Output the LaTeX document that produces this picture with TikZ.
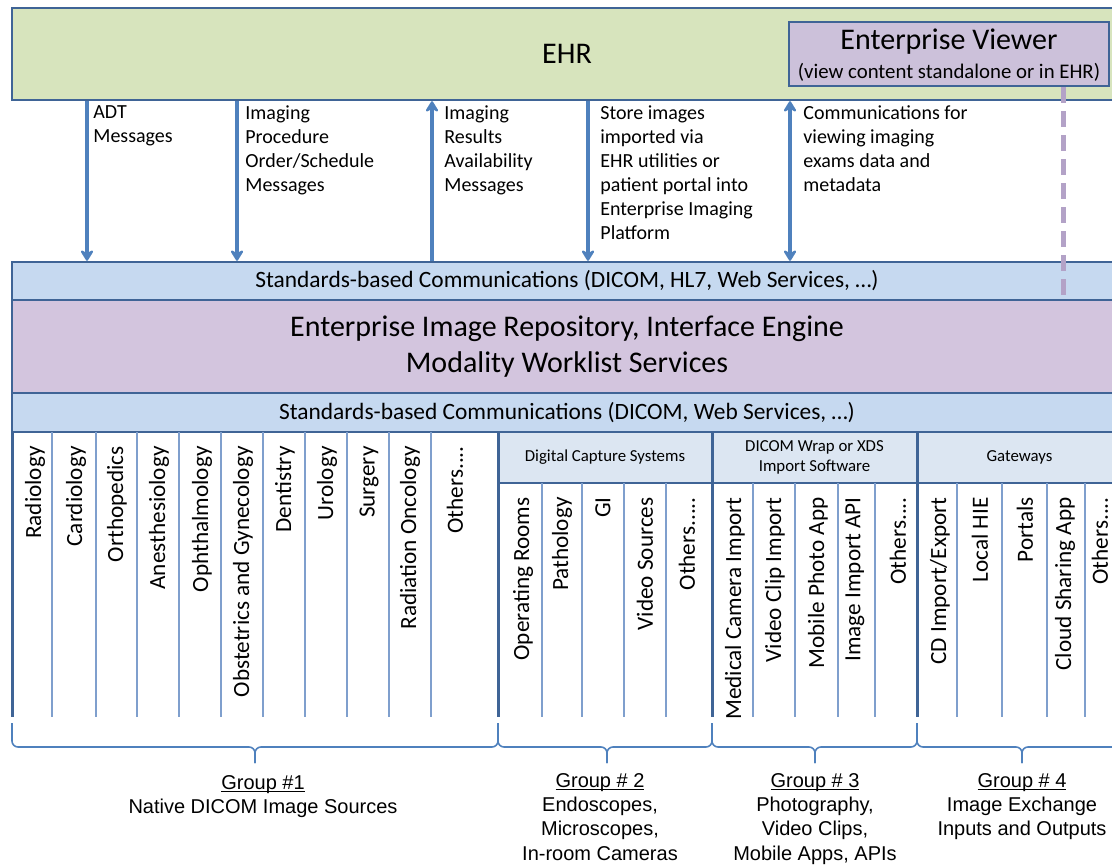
\documentclass[tikz,border=0pt]{standalone}
\usepackage{fontspec}
\setmainfont{Carlito}
\newfontfamily\arialfont{Liberation Sans}
\usepackage{xcolor}
\usetikzlibrary{arrows.meta}
\definecolor{ehrgreen}{HTML}{D7E4BD}
\definecolor{frameblue}{HTML}{3F6496}
\definecolor{stdblue}{HTML}{C6D9F0}
\definecolor{repopurple}{HTML}{D3C5DE}
\definecolor{viewpurple}{HTML}{CCC1DA}
\definecolor{hdrblue}{HTML}{DCE6F2}
\definecolor{arrowblue}{HTML}{4F81BD}
\definecolor{linecol}{HTML}{7F9FCD}
\definecolor{dashpurple}{HTML}{B3A2C7}
\newcommand{\grpul}[1]{\setbox0\hbox{#1}\rlap{\rule[-1.6pt]{\wd0}{0.6pt}}\box0}
\newcommand{\grpbrace}[3]{%
  \draw[brc] (#1,723) -- (#1,747) -- (#2,747) -- (#2,763);
  \draw[brc] (#3,723) -- (#3,747) -- (#2,747) -- (#2,763);}
\begin{document}
\begin{tikzpicture}[x=0.5pt,y=-0.5pt,>={Stealth[length=6.5pt,width=8pt,inset=2.2pt,round]},
  box/.style={draw=frameblue,line width=1.2pt,inner sep=0pt},
  flow/.style={arrowblue,line width=1.8pt},
  note/.style={anchor=north west,align=left,inner sep=0pt,font=\fontsize{10}{12}\selectfont},
  collabel/.style={rotate=90,anchor=east,inner sep=0pt,font=\fontsize{11.6}{13}\selectfont},
  colline/.style={draw=linecol,line width=1pt},
  grpline/.style={draw=frameblue,line width=1.5pt},
  hdr/.style={box,line width=1pt,fill=hdrblue,align=center,font=\fontsize{8.4}{10}\selectfont},
  brc/.style={draw=arrowblue,line width=0.8pt,rounded corners=3pt},
  grp/.style={anchor=north,align=center,font=\arialfont\fontsize{10}{12.2}\selectfont},
  vdash/.style={draw=dashpurple,line width=2.5pt,dash pattern=on 8pt off 4pt}]
\useasboundingbox (0,0) rectangle (1112,865);
\clip (0,0) rectangle (1112,865);

\node[box,fill=ehrgreen,minimum width=555pt,minimum height=46pt,font=\fontsize{15}{18}\selectfont] (ehr) at (567,54) {EHR};
\node[box,fill=viewpurple,minimum width=160pt,minimum height=32pt] (ev) at (949,54) {};
\node[font=\fontsize{15}{18}\selectfont] (evt) at (949,42) {Enterprise Viewer};
\node[font=\fontsize{10.4}{12}\selectfont] (evs) at (949,72) {(view content standalone or in EHR)};

\node[box,fill=stdblue,minimum width=555pt,minimum height=19pt,font=\fontsize{11.7}{14}\selectfont] (std1) at (567,281) {Standards-based Communications (DICOM, HL7, Web Services, …)};
\node[box,fill=repopurple,minimum width=555pt,minimum height=46.5pt,align=center,font=\fontsize{15}{18}\selectfont] (repo) at (567,346.5) {Enterprise Image Repository, Interface Engine\\Modality Worklist Services};
\node[box,fill=stdblue,minimum width=555pt,minimum height=19.5pt,font=\fontsize{11.7}{14}\selectfont] (std2) at (567,412.5) {Standards-based Communications (DICOM, Web Services, …)};

\coordinate (a1) at (87,0);
\coordinate (a2) at (237,0);
\coordinate (a3) at (432,0);
\coordinate (a4) at (588,0);
\coordinate (a5) at (790,0);
\draw[flow,->] (a1 |- ehr.south) -- (a1 |- std1.north);
\draw[flow,->] (a2 |- ehr.south) -- (a2 |- std1.north);
\draw[flow,<-] (a3 |- ehr.south) -- (a3 |- std1.north);
\draw[flow,->] (a4 |- ehr.south) -- (a4 |- std1.north);
\draw[flow,<->] (a5 |- ehr.south) -- (a5 |- std1.north);
\coordinate (dv) at (1063,296);
\draw[vdash] (dv |- ev.south) -- (dv);

\node[note] (l1) at (93,105) {ADT\\Messages};
\node[note] (l2) at (245,105) {Imaging\\Procedure\\Order/Schedule\\Messages};
\node[note] (l3) at (444,105) {Imaging\\Results\\Availability\\Messages};
\node[note] (l4) at (600,105) {Store images\\imported via\\EHR utilities or\\patient portal into\\Enterprise Imaging\\Platform};
\node[note] (l5) at (803,105) {Communications for\\viewing imaging\\exams data and\\metadata};

\node[hdr,minimum width=107pt,minimum height=25.5pt] (h2) at (605,457.5) {Digital Capture Systems};
\node[hdr,minimum width=102.5pt,minimum height=25.5pt] (h3) at (814.5,457.5) {DICOM Wrap or XDS\\Import Software};
\node[hdr,minimum width=102.5pt,minimum height=25.5pt] (h4) at (1019.5,457.5) {Gateways};

\foreach \x in {52,96,137,179,221,263,305,347,389,431}
  \draw[colline] (\x,432) -- (\x,717);
\foreach \x in {542,582,624,666,753,795,838,875,957,1002,1047,1085}
  \draw[colline] (\x,483) -- (\x,717);
\foreach \x in {12,498,712,917}
  \draw[grpline] (\x,432) -- (\x,717);

\foreach \x/\t [count=\i] in {35/Radiology,76/Cardiology,117/Orthopedics,159/Anesthesiology,202/Ophthalmology,243/Obstetrics and Gynecology,285/Dentistry,327/Urology,369/Surgery,410/Radiation Oncology,455/Others{.}{.}{.}{.}}
  \node[collabel] (ga\i) at (\x,446) {\t};
\foreach \x/\t [count=\i] in {523/Operating Rooms,562/Pathology,603/GI,645/Video Sources,687/Others{.}{.}{.}{.}{.},735/Medical Camera Import,775/Video Clip Import,818/Mobile Photo App,855/Image Import API,898/Others{.}{.}{.}{.},940/{CD Import/Export},980/Local HIE,1025/Portals,1065/Cloud Sharing App,1100/Others{.}{.}{.}{.}}
  \node[collabel] (gb\i) at (\x,497) {\t};

\grpbrace{12}{255}{498}
\grpbrace{498}{607}{712}
\grpbrace{712}{815}{917}
\grpbrace{917}{1022}{1127}

\node[grp] (g1) at (263,768) {\grpul{Group \#1}\\Native DICOM Image Sources};
\node[grp] (g2) at (600,766) {\grpul{Group \# 2}\\Endoscopes,\\Microscopes,\\In-room Cameras};
\node[grp] (g3) at (815,766) {\grpul{Group \# 3}\\Photography,\\Video Clips,\\Mobile Apps, APIs};
\node[grp] (g4) at (1022,766) {\grpul{Group \# 4}\\Image Exchange\\Inputs and Outputs};
\end{tikzpicture}
\end{document}
